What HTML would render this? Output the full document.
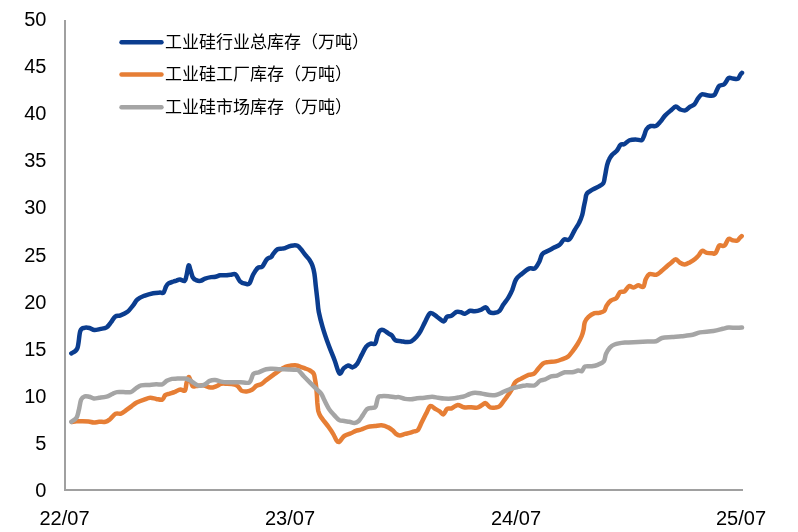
<!DOCTYPE html>
<html><head><meta charset="utf-8">
<style>
html,body{margin:0;padding:0;background:#fff;}
body{width:798px;height:532px;overflow:hidden;position:relative;}
svg{position:absolute;left:0;top:0;display:block;}
.yl{font-family:"Liberation Sans",Arial,sans-serif;font-size:20px;fill:#000;text-anchor:end;dominant-baseline:central;}
.xl{font-family:"Liberation Sans",Arial,sans-serif;font-size:20px;fill:#000;text-anchor:middle;}
.lg{font-family:"Liberation Sans","Noto Sans CJK SC",sans-serif;font-size:17px;fill:#000;}
</style></head>
<body>
<svg width="798" height="532" viewBox="0 0 798 532">
<rect width="798" height="532" fill="#fff"/>
<line x1="65" y1="20" x2="65" y2="490" stroke="#a0a0a0" stroke-width="2"/>
<line x1="64" y1="490" x2="743" y2="490" stroke="#a0a0a0" stroke-width="2"/>
<text transform="translate(46.4,19.0)" class="yl">50</text>
<text transform="translate(46.4,66.1)" class="yl">45</text>
<text transform="translate(46.4,113.2)" class="yl">40</text>
<text transform="translate(46.4,160.3)" class="yl">35</text>
<text transform="translate(46.4,207.4)" class="yl">30</text>
<text transform="translate(46.4,254.5)" class="yl">25</text>
<text transform="translate(46.4,301.6)" class="yl">20</text>
<text transform="translate(46.4,348.7)" class="yl">15</text>
<text transform="translate(46.4,395.8)" class="yl">10</text>
<text transform="translate(46.4,442.9)" class="yl">5</text>
<text transform="translate(46.4,490.0)" class="yl">0</text>
<text transform="translate(64.5,525)" class="xl">22/07</text>
<text transform="translate(290,525)" class="xl">23/07</text>
<text transform="translate(516,525)" class="xl">24/07</text>
<text transform="translate(741,525)" class="xl">25/07</text>

<g fill="none" stroke-width="4.5" stroke-linejoin="round" stroke-linecap="round">
<path stroke="#0b3d8f" d="M71.3,353.4 C72.3,352.6 75.8,352.1 77.3,348.4 C78.8,344.7 79.1,334.5 80.3,331.1 C81.5,327.7 82.8,328.3 84.3,327.8 C85.8,327.3 87.8,327.6 89.5,328.0 C91.2,328.4 92.6,329.9 94.4,330.0 C96.2,330.1 98.6,329.3 100.6,328.9 C102.6,328.5 104.8,328.5 106.6,327.4 C108.3,326.3 109.7,323.9 111.1,322.1 C112.5,320.3 113.6,317.7 115.2,316.6 C116.8,315.5 118.5,316.2 120.5,315.4 C122.5,314.6 125.4,313.4 127.5,311.8 C129.6,310.2 131.2,307.7 132.9,305.6 C134.6,303.6 135.5,301.1 137.4,299.5 C139.3,297.9 141.6,296.9 144.2,295.8 C146.8,294.8 150.6,293.7 153.2,293.2 C155.8,292.7 158.3,292.7 160.0,292.6 C161.7,292.5 162.5,293.6 163.5,292.6 C164.5,291.6 165.2,288.1 166.0,286.6 C166.8,285.1 167.2,284.2 168.5,283.4 C169.8,282.5 172.2,282.0 173.5,281.5 C174.8,281.0 175.4,281.0 176.5,280.6 C177.6,280.2 178.7,279.3 180.0,279.4 C181.3,279.5 183.5,281.6 184.6,281.0 C185.7,280.4 185.7,278.6 186.4,276.0 C187.1,273.4 187.9,266.5 188.6,265.5 C189.3,264.5 189.8,268.0 190.5,270.0 C191.2,272.0 191.9,275.7 192.8,277.4 C193.7,279.1 194.8,279.5 196.1,280.1 C197.4,280.7 199.1,281.1 200.6,280.8 C202.1,280.6 203.3,279.2 205.1,278.6 C206.8,278.0 209.3,277.4 211.1,277.1 C212.8,276.8 214.1,277.1 215.6,276.8 C217.1,276.5 218.4,275.6 220.2,275.3 C222.0,275.0 224.4,275.3 226.2,275.2 C227.9,275.1 229.1,274.9 230.7,274.8 C232.2,274.7 233.9,273.2 235.5,274.3 C237.1,275.4 238.3,279.7 240.0,281.3 C241.7,282.9 244.1,283.5 245.7,283.8 C247.3,284.1 248.2,284.9 249.5,283.4 C250.8,281.8 251.8,277.1 253.2,274.5 C254.6,271.9 256.2,269.3 257.7,268.0 C259.2,266.7 260.8,268.0 262.3,266.6 C263.8,265.2 265.3,261.0 266.8,259.4 C268.3,257.8 270.3,257.7 271.3,256.8 C272.3,255.9 272.0,255.4 273.0,254.1 C274.0,252.8 276.0,250.1 277.5,249.2 C279.0,248.3 280.8,248.8 282.0,248.6 C283.2,248.4 283.8,248.6 285.0,248.2 C286.2,247.8 287.6,246.9 289.0,246.4 C290.4,245.9 292.1,245.5 293.5,245.4 C294.9,245.3 296.2,245.2 297.5,245.8 C298.8,246.4 299.7,247.6 301.0,249.2 C302.3,250.8 304.1,253.4 305.5,255.2 C306.9,257.0 308.2,258.1 309.4,259.8 C310.5,261.5 311.6,263.3 312.4,265.6 C313.2,267.9 313.8,270.0 314.4,273.6 C315.0,277.2 315.4,282.7 315.9,287.1 C316.4,291.5 316.9,295.9 317.4,300.0 C317.9,304.1 317.9,307.5 318.8,312.0 C319.7,316.5 321.0,321.6 322.6,327.1 C324.2,332.6 326.6,339.6 328.6,345.1 C330.6,350.6 332.8,355.5 334.6,360.2 C336.4,364.9 337.9,372.0 339.4,373.4 C340.9,374.8 342.2,369.7 343.6,368.4 C345.1,367.1 346.6,365.6 348.1,365.4 C349.6,365.2 351.1,367.6 352.6,367.4 C354.1,367.1 355.6,366.0 357.1,363.9 C358.6,361.8 360.2,357.8 361.7,354.9 C363.2,352.0 364.7,348.5 366.2,346.6 C367.7,344.7 369.2,344.1 370.7,343.6 C372.2,343.1 374.1,344.9 375.2,343.6 C376.3,342.4 376.6,338.2 377.4,336.1 C378.1,334.0 378.7,331.8 379.7,330.8 C380.7,329.8 382.0,329.6 383.5,330.1 C385.0,330.6 387.3,332.7 388.7,333.6 C390.1,334.5 390.9,334.5 392.0,335.6 C393.1,336.7 394.0,339.4 395.5,340.3 C397.0,341.2 399.1,340.9 401.0,341.2 C402.9,341.5 405.1,342.1 406.8,342.1 C408.5,342.1 409.7,342.3 411.3,341.4 C412.9,340.5 415.0,338.5 416.5,336.8 C418.0,335.1 419.1,333.6 420.5,331.1 C421.9,328.7 423.4,325.1 425.0,322.1 C426.6,319.1 428.3,314.0 430.3,313.1 C432.3,312.2 434.9,315.4 437.1,316.8 C439.4,318.2 442.2,321.4 443.8,321.4 C445.4,321.4 445.5,317.7 446.8,316.8 C448.1,315.9 449.8,316.6 451.4,315.8 C453.0,315.0 455.0,312.5 456.6,311.9 C458.2,311.3 459.7,312.0 461.1,312.3 C462.5,312.6 463.4,314.1 464.9,313.8 C466.4,313.6 468.6,311.2 470.2,310.8 C471.8,310.4 472.9,311.5 474.7,311.3 C476.4,311.1 478.8,310.5 480.7,309.8 C482.6,309.1 484.4,307.0 485.9,307.4 C487.4,307.8 488.2,311.4 489.7,312.3 C491.2,313.2 493.4,313.1 495.0,312.8 C496.6,312.6 498.1,312.1 499.5,310.8 C500.9,309.5 501.7,307.1 503.2,304.8 C504.7,302.6 507.0,299.8 508.5,297.3 C510.0,294.8 511.0,292.8 512.3,289.8 C513.5,286.8 514.4,282.2 516.0,279.5 C517.6,276.8 519.8,275.6 522.0,273.7 C524.2,271.8 527.4,269.3 529.5,268.4 C531.6,267.5 533.2,269.5 534.8,268.4 C536.4,267.3 538.0,264.1 539.3,261.7 C540.5,259.3 540.9,255.9 542.3,254.1 C543.7,252.3 545.7,252.1 547.6,251.1 C549.5,250.1 551.6,248.9 553.6,247.8 C555.6,246.8 557.9,246.2 559.6,244.8 C561.4,243.4 562.5,240.3 564.1,239.4 C565.7,238.5 567.6,241.0 569.4,239.4 C571.2,237.8 573.1,232.9 574.7,230.1 C576.3,227.3 578.0,225.1 579.2,222.6 C580.5,220.1 581.5,217.5 582.2,215.0 C583.0,212.5 583.2,210.0 583.7,207.5 C584.2,205.0 584.8,202.3 585.3,200.0 C585.8,197.7 585.7,195.4 586.8,193.7 C587.9,192.0 590.1,191.0 592.0,189.9 C593.9,188.8 596.1,188.0 598.0,186.9 C599.9,185.8 602.2,184.8 603.3,183.2 C604.4,181.6 604.2,180.1 604.8,177.1 C605.4,174.1 606.4,168.1 607.1,165.1 C607.9,162.1 608.4,160.8 609.3,159.1 C610.2,157.3 611.0,156.0 612.3,154.6 C613.5,153.2 615.4,152.4 616.8,150.8 C618.2,149.2 619.3,145.9 620.6,144.8 C621.9,143.7 622.9,144.9 624.4,144.1 C625.9,143.3 627.7,141.0 629.6,140.2 C631.5,139.4 633.6,139.4 635.6,139.4 C637.6,139.4 640.3,140.8 641.7,140.2 C643.1,139.5 643.4,137.3 644.2,135.5 C645.0,133.7 645.4,130.8 646.5,129.2 C647.6,127.6 649.1,126.5 650.7,126.0 C652.3,125.5 654.3,126.7 655.9,126.0 C657.5,125.3 659.0,123.3 660.5,121.6 C662.0,119.9 663.2,117.5 665.0,115.6 C666.8,113.7 669.3,111.7 671.1,110.2 C672.9,108.7 674.3,106.7 675.8,106.6 C677.3,106.5 678.5,108.8 680.1,109.4 C681.7,110.0 683.7,110.8 685.3,110.4 C686.9,110.0 688.3,107.9 689.8,106.9 C691.3,105.9 693.0,105.8 694.4,104.4 C695.8,103.0 696.9,100.0 698.1,98.3 C699.4,96.6 700.4,94.8 701.9,94.3 C703.4,93.8 705.1,95.1 707.1,95.3 C709.1,95.5 712.3,96.2 713.9,95.3 C715.5,94.4 716.0,91.7 716.9,90.1 C717.8,88.5 718.0,86.9 719.2,85.9 C720.5,84.9 722.9,85.4 724.4,84.1 C725.9,82.8 727.1,79.2 728.5,78.2 C729.9,77.2 731.2,78.3 732.7,78.4 C734.2,78.5 736.5,79.4 737.8,78.8 C739.0,78.2 739.5,76.0 740.2,75.0 C740.9,74.0 741.7,73.2 742.0,72.8"/>
<path stroke="#e67e35" d="M72.0,421.9 C72.8,421.8 74.7,421.4 76.5,421.3 C78.3,421.2 80.6,421.2 82.6,421.2 C84.6,421.2 86.7,421.2 88.6,421.4 C90.5,421.6 92.0,422.5 93.8,422.6 C95.5,422.7 97.1,421.9 99.1,421.8 C101.0,421.7 103.7,422.2 105.5,421.8 C107.3,421.4 108.3,420.5 110.0,419.2 C111.7,417.9 113.8,414.7 115.6,413.8 C117.4,412.9 119.2,414.2 121.0,413.6 C122.8,413.0 124.5,411.4 126.2,410.2 C127.9,409.0 129.7,407.7 131.4,406.4 C133.2,405.1 134.6,403.7 136.7,402.6 C138.8,401.5 141.9,400.4 144.2,399.6 C146.4,398.8 148.2,397.9 150.2,397.8 C152.2,397.7 154.2,398.6 156.2,398.9 C158.2,399.2 160.8,400.2 162.3,399.6 C163.8,399.0 164.1,396.1 165.3,395.1 C166.6,394.1 168.3,394.1 169.8,393.6 C171.3,393.1 173.3,392.5 174.3,392.1 C175.3,391.7 175.0,391.8 176.0,391.4 C177.0,390.9 179.0,389.5 180.5,389.4 C182.0,389.3 184.0,391.7 185.0,390.6 C186.0,389.6 185.9,385.4 186.5,383.1 C187.1,380.8 187.9,377.5 188.6,377.0 C189.2,376.5 189.7,378.5 190.4,380.0 C191.1,381.5 191.6,385.1 192.6,386.1 C193.6,387.1 194.6,386.2 196.3,386.1 C198.1,386.0 200.7,385.1 203.1,385.3 C205.5,385.6 208.3,387.5 210.6,387.6 C212.8,387.7 214.8,386.7 216.6,386.1 C218.3,385.5 219.3,384.2 221.1,383.8 C222.8,383.4 224.8,383.7 227.1,383.8 C229.4,383.9 232.8,384.1 234.7,384.6 C236.6,385.1 237.3,385.8 238.4,386.8 C239.5,387.8 240.0,389.8 241.4,390.6 C242.8,391.4 244.9,391.5 246.7,391.4 C248.5,391.3 250.4,390.7 252.0,389.8 C253.6,388.9 255.0,386.7 256.5,385.8 C258.0,384.9 259.4,385.2 261.0,384.3 C262.6,383.4 264.3,381.6 266.2,380.1 C268.1,378.7 270.4,377.0 272.3,375.6 C274.2,374.2 275.3,373.3 277.5,371.8 C279.7,370.3 283.2,367.8 285.5,366.8 C287.8,365.8 289.2,365.8 291.0,365.6 C292.8,365.4 294.9,365.2 296.5,365.4 C298.1,365.6 299.1,366.3 300.5,366.8 C301.9,367.3 303.4,367.8 305.0,368.4 C306.6,369.0 308.5,369.6 310.0,370.5 C311.5,371.4 313.0,372.5 313.8,373.9 C314.6,375.3 314.5,376.9 314.9,378.8 C315.3,380.8 315.7,383.1 316.0,385.6 C316.3,388.1 316.6,391.0 316.8,393.8 C317.0,396.6 317.1,399.5 317.3,402.4 C317.6,405.3 317.8,408.6 318.3,411.0 C318.9,413.4 318.9,413.8 320.6,416.5 C322.3,419.2 326.5,424.0 328.6,427.0 C330.8,430.0 332.2,432.2 333.5,434.5 C334.8,436.8 335.7,439.2 336.6,440.5 C337.5,441.8 338.1,442.3 339.0,442.0 C339.9,441.7 341.1,439.6 342.0,438.6 C342.9,437.6 343.2,436.7 344.7,435.8 C346.2,434.9 349.0,434.1 350.9,433.3 C352.8,432.5 354.1,431.5 355.8,430.9 C357.5,430.3 359.2,430.2 361.2,429.5 C363.2,428.8 365.7,427.5 368.0,426.9 C370.3,426.3 372.6,426.4 374.8,426.1 C377.1,425.8 379.2,425.0 381.5,425.2 C383.8,425.4 386.5,426.5 388.3,427.4 C390.1,428.2 391.2,429.2 392.5,430.3 C393.8,431.4 394.8,433.0 396.0,433.9 C397.2,434.8 398.3,435.4 399.8,435.4 C401.3,435.4 403.4,434.3 405.0,433.9 C406.6,433.5 408.0,433.3 409.5,432.9 C411.0,432.5 412.7,431.8 414.1,431.4 C415.5,430.9 416.6,431.7 417.8,430.2 C419.1,428.7 420.2,425.4 421.6,422.6 C423.0,419.8 424.7,416.4 426.1,413.6 C427.6,410.9 428.8,406.9 430.3,406.1 C431.8,405.3 433.6,407.9 435.1,408.8 C436.7,409.7 438.2,410.5 439.6,411.4 C441.0,412.3 442.1,414.8 443.4,414.4 C444.6,414.0 445.7,409.8 447.1,408.8 C448.5,407.8 449.9,409.0 451.7,408.3 C453.5,407.6 455.7,405.1 457.7,404.9 C459.7,404.7 461.4,406.9 463.7,407.3 C465.9,407.7 468.9,407.2 471.2,407.3 C473.4,407.4 475.4,407.9 477.2,407.6 C478.9,407.3 480.3,406.1 481.7,405.3 C483.1,404.6 484.1,402.8 485.5,403.1 C486.9,403.4 488.4,406.6 490.0,407.3 C491.6,408.1 493.7,407.8 495.3,407.6 C496.9,407.4 498.3,407.4 499.8,406.1 C501.3,404.9 502.8,402.1 504.3,400.1 C505.8,398.1 507.5,396.0 508.8,394.1 C510.1,392.2 511.0,390.9 512.0,389.0 C513.0,387.1 513.5,384.1 515.0,382.4 C516.5,380.7 518.8,379.9 521.1,378.6 C523.4,377.4 526.5,375.7 528.6,374.9 C530.7,374.1 532.3,374.7 533.8,373.8 C535.3,372.9 536.1,371.3 537.6,369.6 C539.1,367.9 541.1,364.9 542.9,363.6 C544.6,362.4 546.0,362.5 548.1,362.1 C550.2,361.7 553.3,361.9 555.6,361.4 C557.9,360.9 559.9,360.1 562.0,359.3 C564.1,358.5 566.2,357.9 568.0,356.6 C569.8,355.3 570.9,353.4 572.5,351.3 C574.1,349.2 576.1,346.5 577.6,344.0 C579.1,341.5 580.5,338.9 581.5,336.5 C582.5,334.1 583.1,331.9 583.6,329.5 C584.1,327.1 584.0,324.3 584.8,322.2 C585.6,320.1 586.9,318.4 588.5,316.9 C590.1,315.4 592.7,313.9 594.5,313.2 C596.3,312.5 597.5,313.3 599.1,312.9 C600.7,312.5 603.0,312.1 604.3,310.9 C605.5,309.7 605.5,307.4 606.6,305.6 C607.7,303.9 609.5,301.6 611.1,300.4 C612.7,299.1 614.9,299.5 616.4,298.1 C617.9,296.7 618.7,293.2 620.1,292.1 C621.5,291.0 623.1,292.4 624.6,291.4 C626.1,290.4 627.6,286.7 629.1,286.1 C630.6,285.5 632.1,287.7 633.6,287.6 C635.1,287.5 636.6,285.4 638.2,285.3 C639.8,285.2 642.1,287.8 643.4,286.8 C644.6,285.8 644.7,281.4 645.7,279.3 C646.7,277.2 647.6,274.9 649.4,274.1 C651.1,273.4 654.2,275.3 656.2,274.8 C658.2,274.3 659.8,272.5 661.5,271.1 C663.2,269.7 665.1,267.9 666.7,266.5 C668.3,265.1 669.7,264.0 671.2,262.8 C672.7,261.6 674.3,259.2 675.8,259.2 C677.3,259.2 678.5,261.9 680.0,262.8 C681.5,263.7 683.0,264.6 684.6,264.5 C686.2,264.4 688.0,263.3 689.7,262.4 C691.4,261.5 693.5,260.3 695.0,259.1 C696.5,257.9 697.7,256.5 698.9,255.1 C700.1,253.7 700.9,251.2 702.2,250.8 C703.5,250.4 705.1,252.5 706.8,252.9 C708.4,253.3 710.6,253.3 712.1,253.3 C713.6,253.3 714.4,254.3 715.6,253.0 C716.8,251.7 718.0,246.8 719.2,245.6 C720.4,244.4 721.6,246.0 722.6,245.9 C723.6,245.8 724.0,246.2 725.0,245.0 C726.0,243.8 727.4,239.7 728.6,238.9 C729.9,238.1 731.1,240.0 732.5,240.3 C733.9,240.6 735.9,241.1 737.1,240.7 C738.3,240.3 738.9,238.8 739.7,238.0 C740.5,237.2 741.4,236.4 741.7,236.1"/>
<path stroke="#a5a5a5" d="M71.3,421.9 C72.2,421.2 75.2,419.6 76.5,417.7 C77.8,415.8 78.0,413.2 78.8,410.2 C79.6,407.2 80.1,401.9 81.1,399.6 C82.1,397.3 83.4,396.8 84.8,396.3 C86.2,395.8 87.8,396.5 89.3,396.8 C90.8,397.1 92.2,398.2 93.8,398.4 C95.4,398.6 97.0,398.1 99.1,397.8 C101.2,397.5 104.3,397.2 106.6,396.6 C108.8,396.0 110.8,394.6 112.6,393.9 C114.3,393.1 115.3,392.4 117.1,392.1 C118.9,391.8 120.9,392.1 123.2,392.1 C125.5,392.1 128.6,392.7 130.7,392.1 C132.8,391.5 134.2,389.4 135.9,388.3 C137.7,387.2 139.1,385.9 141.2,385.3 C143.3,384.7 146.2,385.1 148.7,384.9 C151.2,384.7 153.9,384.4 156.2,384.3 C158.5,384.2 160.5,384.9 162.3,384.3 C164.1,383.7 165.2,381.7 166.8,380.8 C168.4,379.9 170.2,379.3 172.0,378.9 C173.8,378.5 175.3,378.7 177.5,378.6 C179.7,378.6 183.0,378.4 185.0,378.6 C187.0,378.9 188.0,379.4 189.5,380.1 C191.0,380.9 192.5,382.2 194.1,383.1 C195.7,384.1 197.6,385.6 199.3,385.8 C201.1,386.1 202.8,385.4 204.6,384.6 C206.3,383.8 208.1,381.6 209.8,380.8 C211.6,380.1 213.2,380.0 215.1,380.1 C217.0,380.2 219.1,381.2 221.1,381.6 C223.1,382.0 225.1,382.2 227.1,382.3 C229.1,382.4 230.9,382.3 233.2,382.3 C235.5,382.3 238.0,382.3 240.7,382.3 C243.4,382.3 247.4,383.7 249.5,382.3 C251.6,380.9 251.8,375.7 253.3,374.0 C254.8,372.3 256.6,373.1 258.7,372.3 C260.8,371.5 263.9,369.8 266.2,369.2 C268.5,368.6 270.0,368.8 272.3,368.8 C274.6,368.8 277.1,369.1 279.8,369.2 C282.5,369.3 285.6,369.3 288.5,369.4 C291.4,369.5 295.1,369.6 296.9,369.9 C298.7,370.2 298.3,370.2 299.5,371.3 C300.7,372.4 302.2,374.6 304.0,376.5 C305.8,378.4 308.0,380.6 310.0,382.6 C312.0,384.6 314.1,386.7 316.0,388.6 C317.9,390.5 319.9,391.9 321.3,393.8 C322.7,395.7 323.0,397.4 324.3,400.0 C325.6,402.6 327.5,406.6 329.1,409.1 C330.7,411.6 332.4,413.3 334.1,415.1 C335.8,416.9 337.5,419.1 339.2,420.1 C340.9,421.1 342.6,420.7 344.3,421.0 C346.0,421.3 347.7,421.5 349.4,421.8 C351.1,422.1 352.9,423.1 354.5,423.0 C356.1,422.9 357.3,422.3 358.7,421.0 C360.1,419.7 361.5,417.1 362.9,415.1 C364.3,413.1 365.6,410.3 367.1,409.1 C368.7,407.9 370.8,408.2 372.2,407.8 C373.6,407.4 374.6,408.4 375.6,406.6 C376.6,404.9 377.1,399.0 378.1,397.3 C379.1,395.6 379.8,396.4 381.5,396.2 C383.2,396.0 386.0,396.1 388.3,396.3 C390.6,396.5 393.3,397.2 395.1,397.3 C396.9,397.4 397.4,396.8 399.0,397.1 C400.6,397.4 403.0,398.5 405.0,398.9 C407.0,399.3 409.1,399.4 411.1,399.3 C413.1,399.2 414.9,398.6 417.1,398.3 C419.4,398.1 422.1,398.1 424.6,397.8 C427.1,397.6 429.9,396.8 432.1,396.8 C434.4,396.8 436.1,397.5 438.1,397.8 C440.1,398.1 441.8,398.5 444.1,398.6 C446.4,398.7 449.2,398.8 451.7,398.6 C454.2,398.4 457.1,397.8 459.2,397.4 C461.2,397.0 462.2,397.0 464.0,396.4 C465.8,395.8 467.9,394.6 469.7,394.0 C471.5,393.4 472.9,392.8 475.0,392.7 C477.1,392.6 479.6,393.2 482.0,393.6 C484.4,394.0 487.2,394.9 489.5,395.1 C491.8,395.3 493.9,395.4 496.0,395.0 C498.1,394.6 500.2,393.4 502.0,392.6 C503.8,391.8 505.3,391.0 507.0,390.3 C508.7,389.6 510.2,389.0 512.0,388.4 C513.8,387.8 515.7,387.4 518.0,386.9 C520.3,386.4 522.8,385.6 525.6,385.4 C528.4,385.1 532.2,386.1 534.6,385.4 C537.0,384.6 538.0,381.9 539.8,380.9 C541.5,379.9 543.2,380.1 545.1,379.4 C547.0,378.6 549.1,377.0 551.1,376.4 C553.1,375.8 554.8,376.3 557.1,375.6 C559.4,374.9 562.2,372.9 564.7,372.3 C567.2,371.8 570.0,372.6 572.2,372.3 C574.5,372.0 576.6,370.8 578.2,370.6 C579.8,370.4 580.9,371.7 582.0,371.0 C583.1,370.3 583.4,367.4 585.0,366.6 C586.6,365.8 589.6,366.6 591.7,366.3 C593.8,366.0 595.7,365.6 597.7,364.8 C599.7,364.0 602.4,363.2 603.8,361.4 C605.2,359.6 605.0,356.1 606.0,353.8 C607.0,351.5 608.4,349.4 609.8,347.8 C611.2,346.2 612.0,345.4 614.5,344.5 C617.0,343.6 621.0,343.0 625.0,342.6 C629.0,342.2 634.4,342.2 638.2,342.0 C642.0,341.8 644.6,341.7 647.6,341.6 C650.6,341.5 653.7,341.8 656.1,341.2 C658.5,340.6 659.4,338.7 662.0,338.0 C664.6,337.3 668.8,337.3 672.0,337.0 C675.2,336.7 677.9,336.6 681.4,336.2 C684.9,335.8 689.6,335.4 692.7,334.8 C695.8,334.2 696.5,333.0 700.0,332.4 C703.5,331.8 709.6,331.6 713.4,331.0 C717.2,330.4 720.3,329.4 722.8,328.8 C725.3,328.2 726.2,327.8 728.4,327.6 C730.6,327.4 733.6,327.8 735.9,327.8 C738.2,327.8 741.0,327.6 742.0,327.5"/>
</g>
<line x1="121.5" y1="42.3" x2="161.5" y2="42.3" stroke="#0b3d8f" stroke-width="4.4" stroke-linecap="round"/>
<text transform="translate(165,47.7)" class="lg">工业硅行业总库存（万吨）</text>
<line x1="121.5" y1="74.5" x2="161.5" y2="74.5" stroke="#e67e35" stroke-width="4.4" stroke-linecap="round"/>
<text transform="translate(165,79.9)" class="lg">工业硅工厂库存（万吨）</text>
<line x1="121.5" y1="107.2" x2="161.5" y2="107.2" stroke="#a5a5a5" stroke-width="4.4" stroke-linecap="round"/>
<text transform="translate(165,112.6)" class="lg">工业硅市场库存（万吨）</text>

</svg>
</body></html>
